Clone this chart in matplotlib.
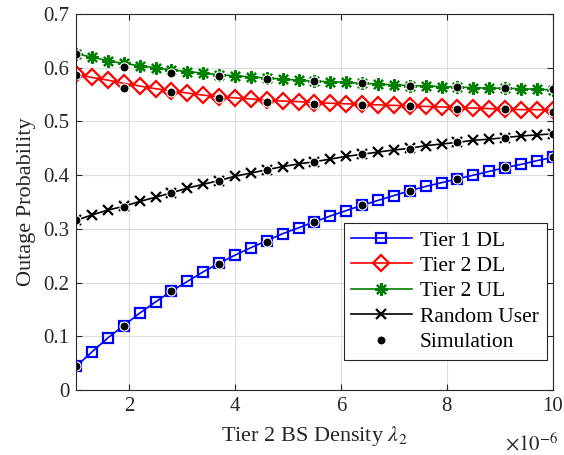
import numpy as np
import matplotlib
matplotlib.use("Agg")
import matplotlib.pyplot as plt

plt.rcParams['font.family'] = ['Liberation Serif', 'DejaVu Serif']
plt.rcParams['mathtext.fontset'] = 'stix'

# densita' tier 2, in unita' di 1e-6 BS/m^2
lam = np.linspace(1, 10, 31)
lam_sim = lam[::3]

# curve analitiche
tier1_dl = [0.044, 0.071, 0.097, 0.120, 0.143, 0.164, 0.184, 0.202, 0.220, 0.236,
            0.251, 0.265, 0.278, 0.291, 0.302, 0.313, 0.324, 0.334, 0.344, 0.353,
            0.362, 0.371, 0.379, 0.386, 0.393, 0.400, 0.407, 0.414, 0.420, 0.427, 0.433]
tier2_dl = [0.588, 0.582, 0.577, 0.571, 0.566, 0.561, 0.557, 0.553, 0.549, 0.546,
            0.544, 0.542, 0.540, 0.538, 0.537, 0.535, 0.534, 0.533, 0.532, 0.531,
            0.530, 0.529, 0.528, 0.527, 0.526, 0.525, 0.524, 0.523, 0.522, 0.522, 0.521]
tier2_ul = [0.626, 0.620, 0.613, 0.608, 0.604, 0.600, 0.596, 0.593, 0.590, 0.587,
            0.585, 0.583, 0.581, 0.579, 0.577, 0.575, 0.574, 0.573, 0.571, 0.570,
            0.568, 0.567, 0.566, 0.565, 0.564, 0.563, 0.562, 0.562, 0.561, 0.560, 0.559]
random_user = [0.316, 0.326, 0.335, 0.342, 0.351, 0.359, 0.367, 0.376, 0.383, 0.390,
               0.398, 0.404, 0.410, 0.416, 0.421, 0.425, 0.430, 0.435, 0.439, 0.443,
               0.447, 0.450, 0.455, 0.458, 0.461, 0.465, 0.467, 0.470, 0.473, 0.475, 0.477]

# simulazione
sim_tier1_dl = [0.044, 0.120, 0.184, 0.235, 0.276, 0.312, 0.344, 0.371, 0.393, 0.416, 0.434]
sim_tier2_dl = [0.587, 0.563, 0.555, 0.543, 0.537, 0.533, 0.531, 0.529, 0.523, 0.524, 0.518]
sim_tier2_ul = [0.626, 0.602, 0.591, 0.585, 0.580, 0.575, 0.572, 0.567, 0.565, 0.563, 0.560]
sim_random = [0.316, 0.341, 0.367, 0.390, 0.409, 0.424, 0.439, 0.449, 0.461, 0.470, 0.476]

fig = plt.figure(figsize=(5.64, 4.55), dpi=100)
ax = fig.add_axes([0.135, 0.143, 0.845, 0.826])

lw = 1.2
ax.plot(lam, tier1_dl, color='#0000ff', lw=lw, marker='s', ms=7, mfc='none',
        mew=1.6, label='Tier 1 DL')
ax.plot(lam, tier2_dl, color='#ff0000', lw=lw, marker='D', ms=8, mfc='none',
        mew=1.6, label='Tier 2 DL')
ax.plot(lam, tier2_ul, color='#008000', lw=lw, marker=(8, 2, 0), ms=9,
        mew=1.6, label='Tier 2 UL')
ax.plot(lam, random_user, color='black', lw=lw, marker='x', ms=7,
        mew=1.6, label='Random User')

sim_kw = dict(ls='none', marker='o', ms=6.5, mfc='black', mec='white', mew=0.8)
ax.plot(lam_sim, sim_tier1_dl, label='Simulation', **sim_kw)
ax.plot(lam_sim, sim_tier2_dl, **sim_kw)
ax.plot(lam_sim, sim_tier2_ul, **sim_kw)
ax.plot(lam_sim, sim_random, **sim_kw)

ax.set_xlim(1, 10)
ax.set_ylim(0, 0.7)
ax.set_xticks(np.arange(2, 11, 2))
ax.set_yticks(np.arange(0, 0.71, 0.1))
ax.yaxis.set_major_formatter(plt.FuncFormatter(lambda v, p: '0' if abs(v) < 1e-9 else f'{v:.1f}'))

ax.grid(True, color='#dddddd', lw=0.8)
ax.set_axisbelow(True)
for s in ax.spines.values():
    s.set_color('#262626')
    s.set_linewidth(0.8)
ax.tick_params(direction='in', top=True, right=True, labelsize=15,
               colors='#262626', length=4, pad=5)

ax.set_xlabel(r'Tier 2 BS Density $\lambda_2$', fontsize=16, color='#262626', labelpad=6)
ax.set_ylabel('Outage Probability', fontsize=16, color='#262626', labelpad=5)
fig.text(0.99, 0.0, r'$\times10^{-6}$', fontsize=15, color='#262626',
         ha='right', va='bottom')

leg = ax.legend(loc='lower right', bbox_to_anchor=(0.987, 0.08), fontsize=15.5,
                handlelength=2.8, fancybox=False, framealpha=1,
                edgecolor='#262626', borderpad=0.35, labelspacing=0.25,
                handletextpad=0.4, borderaxespad=0)
leg.get_frame().set_linewidth(0.8)

fig.savefig('out.png', dpi=100)
